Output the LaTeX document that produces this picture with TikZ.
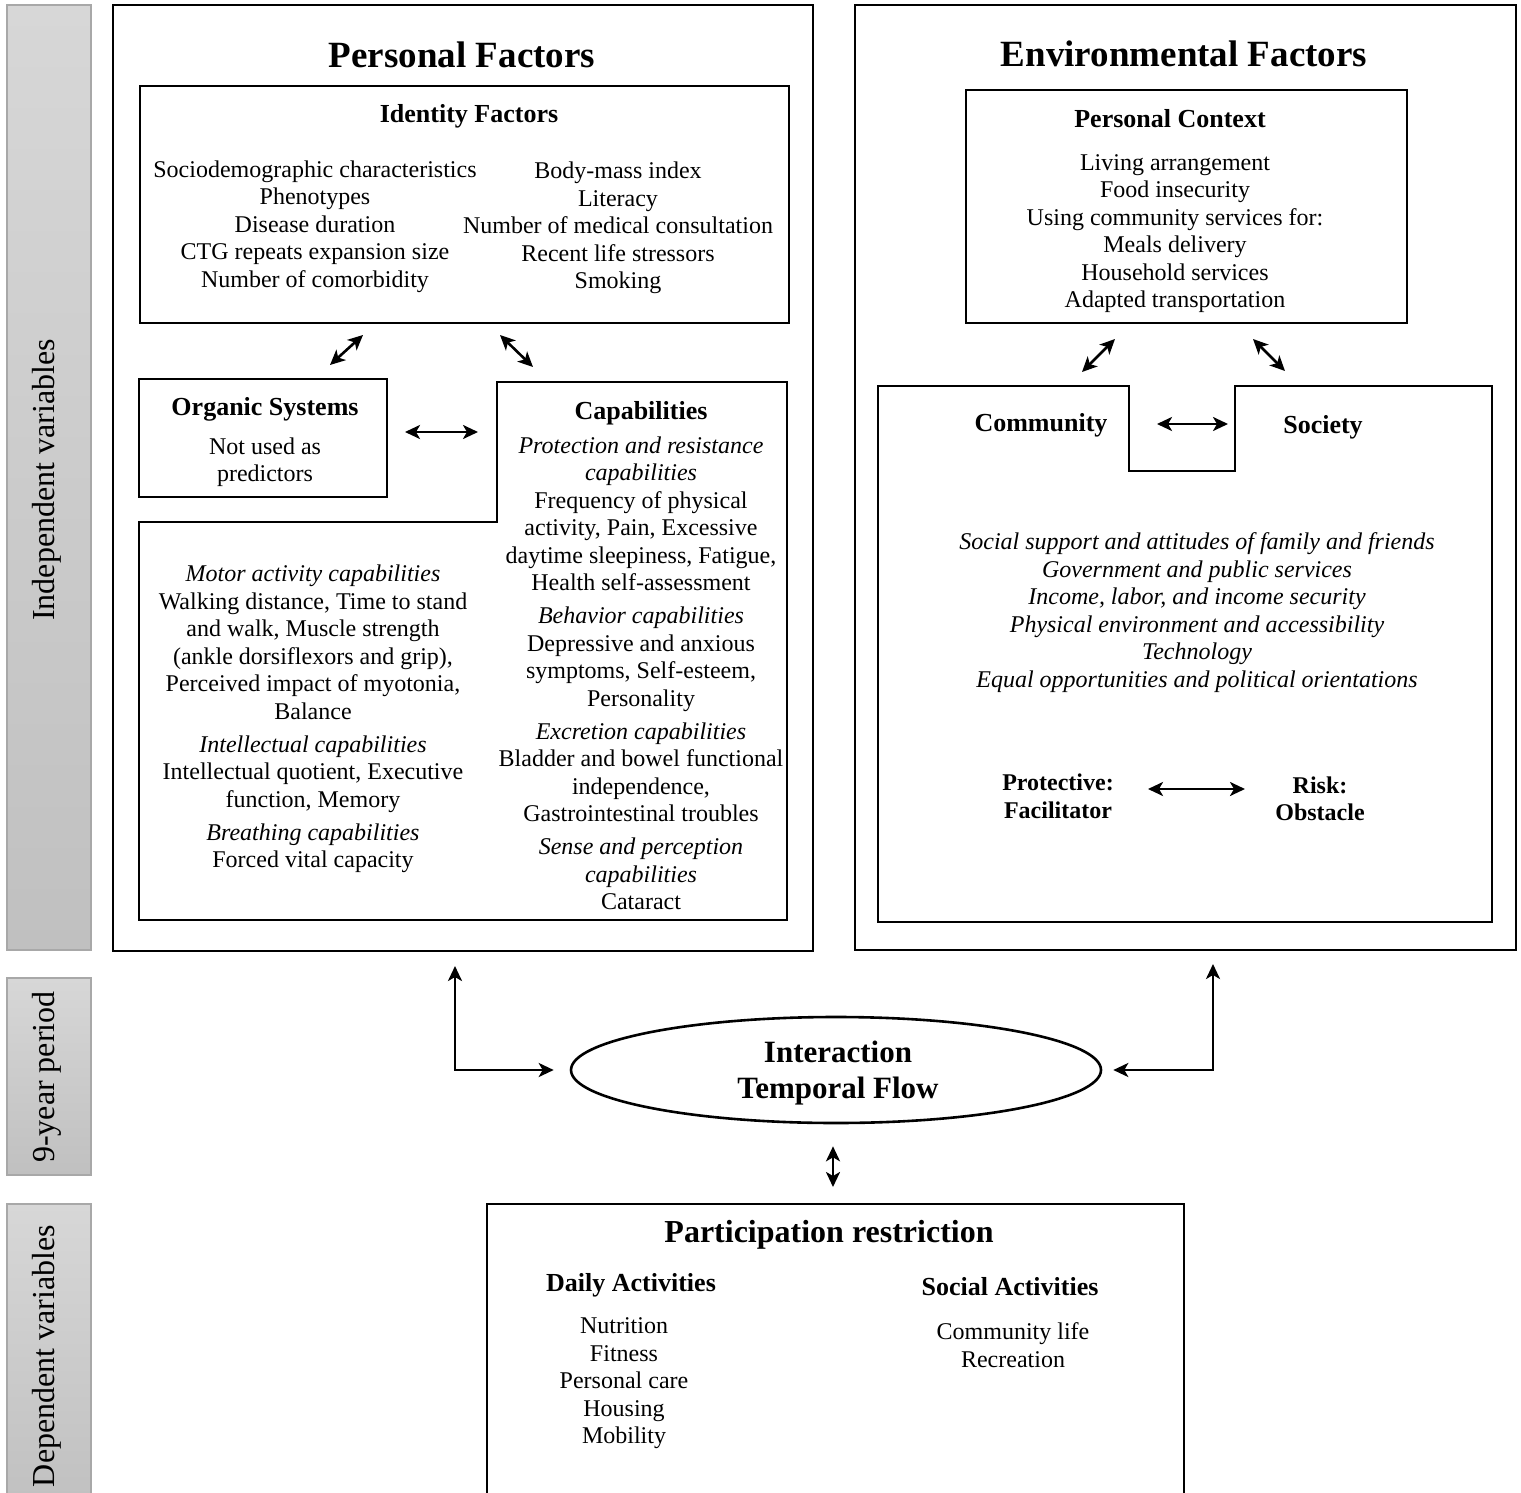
\documentclass[tikz,border=0pt]{standalone}
\usepackage{fontspec}
\setmainfont{Liberation Serif}
\usetikzlibrary{arrows.meta,shapes}
\definecolor{barTop}{HTML}{D7D7D7}
\definecolor{barBottom}{HTML}{C0C0C0}
\definecolor{barEdge}{HTML}{A8A8A8}

\tikzset{
  box/.style={line width=1.4pt},
  dbl/.style={{Stealth[length=7.5pt,width=7pt,inset=2pt]}-{Stealth[length=7.5pt,width=7pt,inset=2pt]},line width=1.3pt},
  txt/.style={align=center,inner sep=0pt,font=\fontsize{12}{13.75}\selectfont},
  head/.style={align=center,inner sep=0pt,font=\fontsize{13}{15}\selectfont\bfseries},
  bigtitle/.style={inner sep=0pt,font=\fontsize{18.5}{22}\selectfont\bfseries},
  sidebar/.style={draw=barEdge,line width=0.6pt,top color=barTop,bottom color=barBottom},
  sidelabel/.style={rotate=90,inner sep=0pt,font=\fontsize{16}{19}\selectfont}
}

\begin{document}
\begin{tikzpicture}[x=0.5pt,y=-0.5pt]
  \useasboundingbox (0,0) rectangle (1521,1493);

  \draw[sidebar] (7,5) rectangle (91,950);
  \draw[sidebar] (7,978) rectangle (91,1175);
  \draw[sidebar] (7,1204) rectangle (91,1510);
  \node[sidelabel] (indep) at (47,480) {Independent variables};
  \node[sidelabel] (period) at (47,1077) {9-year period};
  \node[sidelabel] (dep) at (47,1356) {Dependent variables};

  \draw[box] (113,5) rectangle (813,951);
  \node[bigtitle] (pftitle) at (462,55) {Personal Factors};

  \draw[box] (140,86) rectangle (789,323);
  \node[head] (idtitle) at (469,116) {Identity Factors};
  \node[txt] (idleft) at (315,226.5) {Sociodemographic characteristics\\Phenotypes\\Disease duration\\CTG repeats expansion size\\Number of comorbidity};
  \node[txt] (idright) at (618,228) {Body-mass index\\Literacy\\Number of medical consultation\\Recent life stressors\\Smoking};

  \draw[box] (139,379) rectangle (387,497);
  \node[head] (orgtitle) at (265,409) {Organic Systems};
  \node[txt] (orgtext) at (265,462) {Not used as\\predictors};

  \draw[box] (497,382) -- (787,382) -- (787,920) -- (139,920) -- (139,522) -- (497,522) -- cycle;
  \node[head] (captitle) at (641,413) {Capabilities};
  \node[txt] (captext) at (641,673.5) {\textit{Protection and resistance}\\\textit{capabilities}\\Frequency of physical\\activity, Pain, Excessive\\daytime sleepiness, Fatigue,\\Health self-assessment\\[2.75pt]\textit{Behavior capabilities}\\Depressive and anxious\\symptoms, Self-esteem,\\Personality\\[2.75pt]\textit{Excretion capabilities}\\Bladder and bowel functional\\independence,\\Gastrointestinal troubles\\[2.75pt]\textit{Sense and perception}\\\textit{capabilities}\\Cataract};
  \node[txt] (motortext) at (313,719) {\textit{Motor activity capabilities}\\Walking distance, Time to stand\\and walk, Muscle strength\\(ankle dorsiflexors and grip),\\Perceived impact of myotonia,\\Balance\\[2.75pt]\textit{Intellectual capabilities}\\Intellectual quotient, Executive\\function, Memory\\[2.75pt]\textit{Breathing capabilities}\\Forced vital capacity};

  \coordinate (idorgA) at (330,365);
  \coordinate (idorgB) at (363,335);
  \coordinate (idcapA) at (500,335);
  \coordinate (idcapB) at (533,367);
  \coordinate (orgcapA) at (405,432);
  \coordinate (orgcapB) at (478,432);
  \draw[dbl] (idorgA) -- (idorgB);
  \draw[dbl] (idcapA) -- (idcapB);
  \draw[dbl] (orgcapA) -- (orgcapB);

  \draw[box] (855,5) rectangle (1516,950);
  \node[bigtitle] (eftitle) at (1184,54) {Environmental Factors};

  \draw[box] (966,90) rectangle (1407,323);
  \node[head] (pctitle) at (1170,119) {Personal Context};
  \node[txt] (pctext) at (1175,233.5) {Living arrangement\\Food insecurity\\Using community services for:\\Meals delivery\\Household services\\Adapted transportation};

  \draw[box] (878,386) -- (1129,386) -- (1129,471) -- (1235,471) -- (1235,386) -- (1492,386) -- (1492,922) -- (878,922) -- cycle;
  \node[head] (community) at (1041,425) {Community};
  \node[head] (society) at (1323,427) {Society};
  \node[txt,font=\fontsize{12}{13.75}\selectfont\itshape] (envlist) at (1197,612.5) {Social support and attitudes of family and friends\\Government and public services\\Income, labor, and income security\\Physical environment and accessibility\\Technology\\Equal opportunities and political orientations};
  \node[txt,font=\fontsize{12}{13.75}\selectfont\bfseries] (protective) at (1058,796.5) {Protective:\\Facilitator};
  \node[txt,font=\fontsize{12}{13.75}\selectfont\bfseries] (risk) at (1320,799) {Risk:\\Obstacle};

  \coordinate (pccomA) at (1082,372);
  \coordinate (pccomB) at (1115,339);
  \coordinate (pcsocA) at (1253,339);
  \coordinate (pcsocB) at (1285,371);
  \coordinate (comsocA) at (1157,424);
  \coordinate (comsocB) at (1228,424);
  \coordinate (protriskA) at (1148,789);
  \coordinate (protriskB) at (1245,789);
  \draw[dbl] (pccomA) -- (pccomB);
  \draw[dbl] (pcsocA) -- (pcsocB);
  \draw[dbl] (comsocA) -- (comsocB);
  \draw[dbl] (protriskA) -- (protriskB);

  \node[draw,ellipse,line width=1.3pt,inner sep=0pt,minimum width=265pt,minimum height=53pt] (flow) at (836,1070) {};
  \node[align=center,inner sep=0pt,font=\fontsize{15.5}{18}\selectfont\bfseries] (flowtext) at (838,1073) {Interaction\\Temporal Flow};
  \coordinate (pfdown) at (455,966);
  \coordinate (efdown) at (1213,964);
  \draw[dbl] (pfdown) |- ([xshift=-8pt]flow.west);
  \draw[dbl] (efdown) |- ([xshift=5.5pt]flow.east);

  \draw[box] (487,1510) -- (487,1204) -- (1184,1204) -- (1184,1510);
  \coordinate (parttop) at (833,1204);
  \draw[dbl] ([yshift=-11pt]flow.south -| parttop) -- ([yshift=8.5pt]parttop);
  \node[inner sep=0pt,font=\fontsize{16}{19}\selectfont\bfseries] (parttitle) at (829,1235) {Participation restriction};
  \node[head] (dailytitle) at (631,1285) {Daily Activities};
  \node[txt] (dailylist) at (624,1383.5) {Nutrition\\Fitness\\Personal care\\Housing\\Mobility};
  \node[head] (socialtitle) at (1010,1287) {Social Activities};
  \node[txt] (sociallist) at (1013,1345) {Community life\\Recreation};

\end{tikzpicture}
\end{document}
